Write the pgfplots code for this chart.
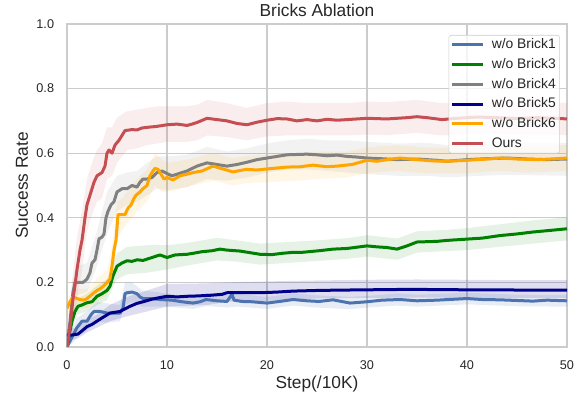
\documentclass[border=0pt]{standalone}
\usepackage{pgfplots}
\pgfplotsset{compat=1.18}
\usepackage{pgfplotstable}
\usepgfplotslibrary{fillbetween}
\usepackage{fontspec}
\setmainfont{Liberation Sans}
\definecolor{cA}{HTML}{4C72B0}
\definecolor{cB}{HTML}{008000}
\definecolor{cC}{HTML}{808080}
\definecolor{cD}{HTML}{00008B}
\definecolor{cE}{HTML}{FFA500}
\definecolor{cF}{HTML}{C44E52}
\definecolor{gridc}{HTML}{CCCCCC}

% ---------- mean curves ----------
\pgfplotstableread{
x y
0 0.0
0.5 0.03
1.0 0.06
1.5 0.08
2.0 0.08
2.4 0.10
2.7 0.11
3.3 0.11
4.0 0.105
5.3 0.105
5.6 0.12
5.8 0.165
6.0 0.168
6.5 0.17
7.0 0.165
7.3 0.155
7.6 0.15
8.5 0.15
9.3 0.147
10.5 0.145
11.5 0.14
12.6 0.136
13.3 0.14
13.9 0.147
15 0.143
16 0.141
16.5 0.163
16.7 0.145
17.5 0.141
18.5 0.14
20 0.136
21.5 0.142
22.6 0.147
24 0.143
25.2 0.141
26.6 0.146
28.3 0.136
30 0.14
31.5 0.145
33.3 0.147
35 0.143
37 0.145
40 0.15
41.5 0.147
43.3 0.146
45 0.144
46.6 0.142
48 0.145
50 0.143
}\brickA
\pgfplotstableread{
x y
0 0.0
0.3 0.05
0.5 0.08
0.8 0.11
1.1 0.126
1.5 0.13
2.0 0.137
2.5 0.14
3.0 0.157
3.5 0.165
4.0 0.175
4.3 0.188
4.6 0.22
5.0 0.25
5.5 0.26
6.0 0.267
6.5 0.265
7.0 0.27
7.6 0.268
8.3 0.275
9.3 0.285
10 0.277
10.8 0.285
12 0.287
12.6 0.29
13.5 0.295
14.5 0.298
15.3 0.303
16 0.300
17.3 0.297
18.3 0.292
19.3 0.287
20.5 0.286
21.5 0.29
22.6 0.293
23.5 0.293
24.5 0.296
25.2 0.298
26.6 0.303
28 0.305
30 0.313
31 0.31
32 0.308
33 0.303
34 0.313
35 0.325
36 0.326
37 0.327
38 0.33
40 0.334
41.5 0.337
43.3 0.345
45 0.35
46.6 0.356
48 0.36
50 0.366
}\brickB
\pgfplotstableread{
x y
0 0.0
0.3 0.08
0.6 0.17
0.8 0.20
1.2 0.20
1.6 0.20
2.0 0.21
2.3 0.23
2.5 0.26
2.8 0.27
3.0 0.30
3.2 0.335
3.5 0.34
3.7 0.35
3.9 0.40
4.1 0.42
4.4 0.44
4.7 0.45
5.0 0.48
5.5 0.49
6.0 0.49
6.5 0.50
7.0 0.495
7.3 0.51
7.6 0.52
8.0 0.52
8.5 0.525
9.0 0.54
9.5 0.545
10 0.537
10.5 0.53
11 0.535
12 0.545
13 0.56
14 0.57
15 0.565
16 0.56
17 0.565
18 0.572
19 0.58
20 0.585
21 0.59
22 0.595
23 0.596
24 0.597
25 0.595
26 0.592
27 0.594
28 0.59
29 0.588
30 0.585
32 0.582
33 0.58
35 0.582
37 0.578
38 0.575
40 0.58
42 0.583
44 0.585
46 0.582
48 0.58
50 0.582
}\brickC
\pgfplotstableread{
x y
0 0.037
0.5 0.037
1.1 0.04
1.5 0.05
2.0 0.063
2.5 0.07
3.0 0.08
3.5 0.09
4.3 0.105
5.3 0.11
6.3 0.126
7.0 0.135
7.6 0.14
8.5 0.148
9.3 0.153
10 0.157
11 0.155
12 0.157
13 0.158
14.3 0.16
15.5 0.163
16 0.168
18 0.168
19.3 0.168
21 0.17
22.6 0.173
25 0.175
27 0.176
30 0.177
33 0.178
36 0.178
40 0.177
43 0.177
46 0.176
50 0.176
}\brickD
\pgfplotstableread{
x y
0 0.12
0.3 0.14
0.6 0.155
1.0 0.15
1.3 0.147
1.7 0.145
2.0 0.15
2.4 0.16
2.7 0.168
3.0 0.175
3.3 0.18
3.7 0.19
4.0 0.20
4.3 0.21
4.5 0.25
4.7 0.30
4.9 0.33
5.1 0.41
5.5 0.41
5.8 0.41
6.1 0.43
6.4 0.44
6.7 0.46
6.9 0.47
7.3 0.48
7.6 0.49
8.0 0.50
8.3 0.53
8.6 0.545
8.8 0.553
9.1 0.55
9.4 0.535
9.7 0.52
10 0.525
10.6 0.517
11.3 0.53
12 0.535
12.6 0.54
13.5 0.545
14.6 0.56
15.5 0.552
16.6 0.542
17.9 0.55
19 0.548
20.6 0.553
22 0.557
23.3 0.558
24.6 0.563
26 0.558
27 0.56
28.5 0.565
30 0.578
31 0.575
32 0.58
33.3 0.585
35 0.58
36.6 0.576
38 0.575
40 0.578
42 0.582
43.3 0.585
45 0.582
47 0.58
49 0.583
50 0.585
}\brickE
\pgfplotstableread{
x y
0 0.0
0.3 0.06
0.6 0.15
0.8 0.19
1.0 0.24
1.3 0.30
1.5 0.33
1.8 0.40
2.0 0.44
2.3 0.47
2.7 0.51
3.0 0.53
3.5 0.54
3.8 0.56
4.0 0.60
4.2 0.61
4.5 0.60
4.8 0.625
5.2 0.64
5.5 0.655
5.8 0.67
6.5 0.673
7.0 0.672
7.5 0.678
8.0 0.68
9.0 0.683
10 0.688
11 0.69
12 0.686
12.5 0.69
13 0.695
14 0.708
15 0.704
16 0.700
17 0.692
18 0.688
19 0.696
20 0.702
21 0.707
22 0.706
23 0.700
24 0.704
25 0.700
26 0.705
27 0.702
28 0.704
30 0.708
32 0.706
34 0.710
35 0.713
36 0.710
37.5 0.704
39 0.708
41 0.712
43 0.710
45 0.707
47 0.710
49 0.708
50 0.706
}\ours

% ---------- confidence bands ----------
\pgfplotstableread{
x lo hi
0 0 0.01
0.5 0.01 0.05
1 0.03 0.09
2 0.05 0.11
3 0.08 0.14
4 0.075 0.135
5.3 0.08 0.13
5.8 0.13 0.2
6.5 0.14 0.2
7.5 0.125 0.175
9 0.125 0.17
10 0.125 0.165
12.6 0.118 0.155
14 0.127 0.167
16 0.122 0.16
17 0.125 0.165
20 0.118 0.155
22.6 0.128 0.166
25 0.122 0.16
28.3 0.117 0.155
30 0.122 0.158
33 0.128 0.166
35 0.125 0.162
40 0.132 0.168
45 0.126 0.162
50 0.125 0.161
}\bandA
\pgfplotstableread{
x lo hi
0 0 0
0.5 0.05 0.11
1 0.1 0.15
2 0.11 0.165
3 0.13 0.19
4 0.145 0.21
5 0.21 0.29
6 0.225 0.31
8 0.23 0.315
10 0.24 0.315
12 0.252 0.322
15 0.268 0.338
17 0.264 0.33
19.3 0.255 0.32
22 0.26 0.325
25 0.266 0.33
28 0.273 0.337
30 0.28 0.346
33 0.27 0.336
35 0.292 0.358
38 0.297 0.363
40 0.3 0.368
43.3 0.31 0.38
46.6 0.32 0.392
50 0.33 0.402
}\bandB
\pgfplotstableread{
x lo hi
0 0 0
0.5 0.1 0.2
1 0.16 0.25
2 0.17 0.26
3 0.25 0.36
4 0.35 0.48
5 0.42 0.53
6 0.44 0.54
7 0.45 0.545
8 0.47 0.57
9 0.49 0.59
10 0.485 0.59
12 0.495 0.595
14 0.52 0.62
16 0.515 0.605
18 0.525 0.615
20 0.54 0.63
22 0.55 0.64
24 0.55 0.645
26 0.545 0.64
28 0.54 0.64
30 0.535 0.635
33 0.53 0.63
36 0.53 0.632
38 0.525 0.625
40 0.528 0.63
43 0.532 0.635
46 0.532 0.632
50 0.53 0.632
}\bandC
\pgfplotstableread{
x lo hi
0 0.02 0.055
1 0.025 0.06
2 0.045 0.085
3 0.06 0.1
4.3 0.08 0.13
6 0.095 0.155
8 0.11 0.175
10 0.125 0.195
14 0.13 0.197
16 0.14 0.2
20 0.143 0.203
25 0.15 0.206
30 0.152 0.208
35 0.153 0.209
40 0.152 0.208
45 0.151 0.207
50 0.151 0.207
}\bandD
\pgfplotstableread{
x lo hi
0 0.09 0.15
1 0.12 0.18
2 0.12 0.18
3 0.14 0.21
4 0.16 0.24
4.5 0.19 0.31
5 0.33 0.45
5.5 0.36 0.46
6 0.38 0.48
7 0.42 0.52
8 0.45 0.55
8.8 0.5 0.6
9.5 0.48 0.58
10 0.48 0.57
12 0.495 0.58
14.6 0.515 0.6
16.6 0.5 0.585
18 0.508 0.592
20 0.51 0.595
23 0.515 0.6
25 0.52 0.605
28 0.525 0.605
30 0.538 0.618
33 0.545 0.625
36 0.537 0.617
40 0.538 0.618
43 0.545 0.625
46 0.54 0.622
50 0.545 0.625
}\bandE
\pgfplotstableread{
x lo hi
0 0.0 0.0
0.5 0.04 0.2
1.0 0.15 0.34
1.5 0.24 0.42
2.0 0.36 0.52
2.5 0.41 0.57
3.0 0.45 0.61
3.5 0.46 0.63
4.0 0.52 0.68
4.5 0.53 0.68
5.0 0.57 0.71
5.5 0.59 0.72
6.0 0.61 0.73
7.0 0.615 0.735
8.0 0.625 0.74
9.0 0.63 0.745
10 0.635 0.745
12 0.635 0.745
13 0.64 0.75
14 0.655 0.765
16 0.65 0.755
18 0.64 0.74
20 0.652 0.755
22 0.655 0.76
24 0.655 0.755
26 0.655 0.755
28 0.655 0.755
30 0.658 0.76
32 0.656 0.758
35 0.663 0.765
37.5 0.655 0.755
40 0.66 0.76
43 0.66 0.76
46 0.658 0.758
50 0.656 0.756
}\bandF

\begin{document}
\begin{tikzpicture}
\begin{axis}[
  scale only axis,
  width=375pt, height=242.25pt,
  xmin=0, xmax=50, ymin=0, ymax=1,
  xtick={0,10,20,30,40,50},
  ytick={0,0.2,0.4,0.6,0.8,1.0},
  yticklabel style={/pgf/number format/fixed, /pgf/number format/fixed zerofill, /pgf/number format/precision=1},
  /pgf/number format/assume math mode=true,
  tick label style={font=\fontsize{9.5}{11}\selectfont, color=black!85},
  xticklabel style={anchor=center, inner sep=0pt, yshift=-13.5pt},
  yticklabel style={anchor=east, inner sep=0pt, xshift=-9.5pt},
  major tick length=0pt,
  grid=major,
  major grid style={draw=gridc, line width=0.8pt},
  axis line style={draw=gridc, line width=1pt},
  every axis title shift=0pt,
  title={Bricks Ablation},
  title style={at={(axis description cs:0.5,1.041)}, anchor=center, inner sep=0pt, font=\fontsize{13}{15}\selectfont, color=black!85},
  xlabel={Step(/10K)},
  ylabel={Success Rate},
  every axis x label/.style={at={(axis description cs:0.5,-0.1146)}, anchor=center, inner sep=0pt, font=\fontsize{13}{15}\selectfont, color=black!85},
  every axis y label/.style={at={(axis description cs:-0.09,0.5)}, rotate=90, anchor=center, inner sep=0pt, font=\fontsize{13}{15}\selectfont, color=black!85},
  legend style={at={(axis description cs:0.986,0.966)}, anchor=north east,
    draw=gridc, rounded corners=2pt, fill=white, fill opacity=0.8, text opacity=1,
    font=\fontsize{10.4}{12}\selectfont, text=black!85,
    inner xsep=1.5pt, inner ysep=1pt, row sep=2.3pt,
    nodes={inner sep=1.5pt, text height=7.5pt, text depth=2pt}},
  legend cell align=left,
  legend image code/.code={\draw[#1, line width=2.25pt] (0pt,0pt) -- (23pt,0pt); \path (27pt,0pt);},
  line join=round,
]
% bands
\addplot[draw=none, forget plot, name path=aL] table[x=x,y=lo]{\bandA};
\addplot[draw=none, forget plot, name path=aH] table[x=x,y=hi]{\bandA};
\addplot[fill=cA, fill opacity=0.13, draw=none, forget plot] fill between[of=aH and aL];
\addplot[draw=none, forget plot, name path=bL] table[x=x,y=lo]{\bandB};
\addplot[draw=none, forget plot, name path=bH] table[x=x,y=hi]{\bandB};
\addplot[fill=cB, fill opacity=0.1, draw=none, forget plot] fill between[of=bH and bL];
\addplot[draw=none, forget plot, name path=cL] table[x=x,y=lo]{\bandC};
\addplot[draw=none, forget plot, name path=cH] table[x=x,y=hi]{\bandC};
\addplot[fill=cC, fill opacity=0.1, draw=none, forget plot] fill between[of=cH and cL];
\addplot[draw=none, forget plot, name path=dL] table[x=x,y=lo]{\bandD};
\addplot[draw=none, forget plot, name path=dH] table[x=x,y=hi]{\bandD};
\addplot[fill=cD, fill opacity=0.13, draw=none, forget plot] fill between[of=dH and dL];
\addplot[draw=none, forget plot, name path=eL] table[x=x,y=lo]{\bandE};
\addplot[draw=none, forget plot, name path=eH] table[x=x,y=hi]{\bandE};
\addplot[fill=cE, fill opacity=0.1, draw=none, forget plot] fill between[of=eH and eL];
\addplot[draw=none, forget plot, name path=fL] table[x=x,y=lo]{\bandF};
\addplot[draw=none, forget plot, name path=fH] table[x=x,y=hi]{\bandF};
\addplot[fill=cF, fill opacity=0.1, draw=none, forget plot] fill between[of=fH and fL];
% lines
\addplot[cA, line width=2.25pt] table[x=x,y=y]{\brickA};
\addlegendentry{w/o Brick1}
\addplot[cB, line width=2.25pt] table[x=x,y=y]{\brickB};
\addlegendentry{w/o Brick3}
\addplot[cC, line width=2.25pt] table[x=x,y=y]{\brickC};
\addlegendentry{w/o Brick4}
\addplot[cD, line width=2.25pt] table[x=x,y=y]{\brickD};
\addlegendentry{w/o Brick5}
\addplot[cE, line width=2.25pt] table[x=x,y=y]{\brickE};
\addlegendentry{w/o Brick6}
\addplot[cF, line width=2.25pt] table[x=x,y=y]{\ours};
\addlegendentry{Ours}
\end{axis}
\path (-50.25pt,-38.25pt) rectangle (381.75pt,260.25pt);
\end{tikzpicture}
\end{document}
